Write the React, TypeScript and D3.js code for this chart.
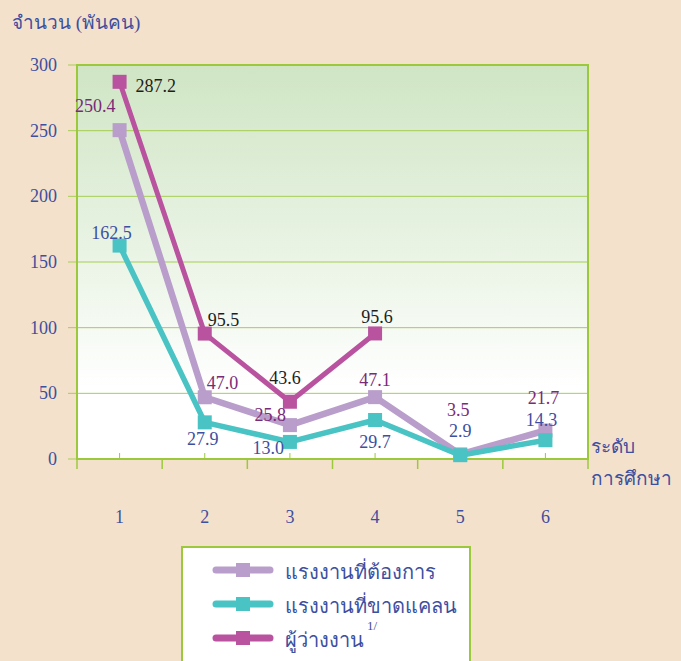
import React from 'react'
import * as d3 from 'd3'

const categories = ['1', '2', '3', '4', '5', '6']
const demand = [250.4, 47.0, 25.8, 47.1, 3.5, 21.7]
const shortage = [162.5, 27.9, 13.0, 29.7, 2.9, 14.3]
const unemployed = [287.2, 95.5, 43.6, 95.6]
const yTicks = [0, 50, 100, 150, 200, 250, 300]
const seriesNames = ['แรงงานที่ต้องการ', 'แรงงานที่ขาดแคลน', 'ผู้ว่างงาน']

// label offsets [dx, dy, anchor] per point
const demandLbl: [number, number, string][] = [
  [-4, -18, 'end'], [2, -8, 'start'], [-4, -4, 'end'], [0, -11, 'middle'], [-2, -38, 'middle'], [-2, -27, 'middle']
]
const shortageLbl: [number, number, string][] = [
  [-8, -7, 'middle'], [-2, 23, 'middle'], [-6, 12, 'end'], [0, 28, 'middle'], [0, -18, 'middle'], [-4, -14, 'middle']
]
const unempLbl: [number, number, string][] = [
  [16, 10, 'start'], [3, -8, 'start'], [-5, -18, 'middle'], [2, -10, 'middle']
]

const W = 681
const H = 661
const M = { left: 77, right: 588, top: 65, bottom: 459 }

export default function App() {
  const x = d3.scaleBand().domain(categories).range([M.left, M.right])
  const cx = (i: number) => (x(categories[i]) as number) + x.bandwidth() / 2
  const y = d3.scaleLinear().domain([0, 300]).range([M.bottom, M.top])
  const line = d3.line<number>().x((d, i) => cx(i)).y(d => y(d))

  const blue = '#3d4f9f'
  const series = [
    { name: seriesNames[0], data: demand, color: '#b99dca', width: 6.5, lbl: demandLbl, lc: '#7a2b78' },
    { name: seriesNames[1], data: shortage, color: '#49c3c4', width: 5.5, lbl: shortageLbl, lc: blue },
    { name: seriesNames[2], data: unemployed, color: '#b9529f', width: 5, lbl: unempLbl, lc: '#1e1e1e' }
  ]
  const order = [2, 0, 1]

  return (
    <svg width={W} height={H} style={{ position: 'absolute', left: 0, top: 0 }}
      fontFamily="'Liberation Serif', 'Times New Roman', serif">
      <defs>
        <linearGradient id="bg" x1="0" y1="0" x2="0" y2="1">
          <stop offset="0" stopColor="#cfe5c4" />
          <stop offset="0.55" stopColor="#eef6ea" />
          <stop offset="0.82" stopColor="#ffffff" />
          <stop offset="1" stopColor="#ffffff" />
        </linearGradient>
      </defs>
      <rect x={0} y={0} width={W} height={H} fill="#f4e1cc" />
      <text x={12} y={29} fontSize={19} fill={blue}>จำนวน (พันคน)</text>
      <rect x={M.left} y={M.top} width={M.right - M.left} height={M.bottom - M.top} fill="url(#bg)" />
      {yTicks.map(t => (
        <g key={t}>
          <line x1={68} x2={M.right} y1={y(t)} y2={y(t)} stroke="#a6cd55" strokeWidth={1} />
          <text x={57} y={y(t) + 6} textAnchor="end" fontSize={18} fill={blue}>{t}</text>
        </g>
      ))}
      <rect x={M.left} y={M.top} width={M.right - M.left} height={M.bottom - M.top} fill="none" stroke="#9cc93b" strokeWidth={2} />
      {categories.map((c, i) => (
        <g key={c}>
          <line x1={x(c) as number} x2={x(c) as number} y1={M.bottom} y2={M.bottom + 10} stroke="#9cc93b" strokeWidth={1.5} />
          <line x1={cx(i)} x2={cx(i)} y1={M.bottom} y2={M.bottom - 6} stroke="#9cc93b" strokeWidth={1} />
          <text x={cx(i)} y={523} textAnchor="middle" fontSize={18} fill={blue}>{c}</text>
        </g>
      ))}
      <line x1={M.right} x2={M.right} y1={M.bottom} y2={M.bottom + 10} stroke="#9cc93b" strokeWidth={1.5} />
      <text x={591} y={453} fontSize={19} fill={blue}>ระดับ</text>
      <text x={591} y={485} fontSize={19} fill={blue}>การศึกษา</text>
      {order.map(k => {
        const s = series[k]
        return (
          <g key={s.name}>
            <path d={line(s.data) as string} fill="none" stroke={s.color} strokeWidth={s.width} strokeLinejoin="round" />
            {s.data.map((d, i) => (
              <rect key={i} x={cx(i) - 7} y={y(d) - 7} width={14} height={14} fill={s.color} />
            ))}
          </g>
        )
      })}
      {series.map(s => s.data.map((d, i) => (
        <text key={s.name + i} x={cx(i) + s.lbl[i][0]} y={y(d) + s.lbl[i][1]} textAnchor={s.lbl[i][2] as any}
          fontSize={18} fill={s.lc}>{d.toFixed(1)}</text>
      )))}
      <rect x={182} y={547} width={288} height={130} fill="#ffffff" stroke="#9cc93b" strokeWidth={2} />
      {series.map((s, i) => {
        const ly = 570 + i * 34
        return (
          <g key={'leg' + i}>
            <line x1={216} x2={270} y1={ly} y2={ly} stroke={s.color} strokeWidth={7} strokeLinecap="round" />
            <rect x={236} y={ly - 7} width={14} height={14} fill={s.color} />
            <text x={285} y={ly + 9} fontSize={20} fill={blue}>{s.name}</text>
          </g>
        )
      })}
      <text x={367} y={630} fontSize={13} fill={blue}>1/</text>
    </svg>
  )
}
